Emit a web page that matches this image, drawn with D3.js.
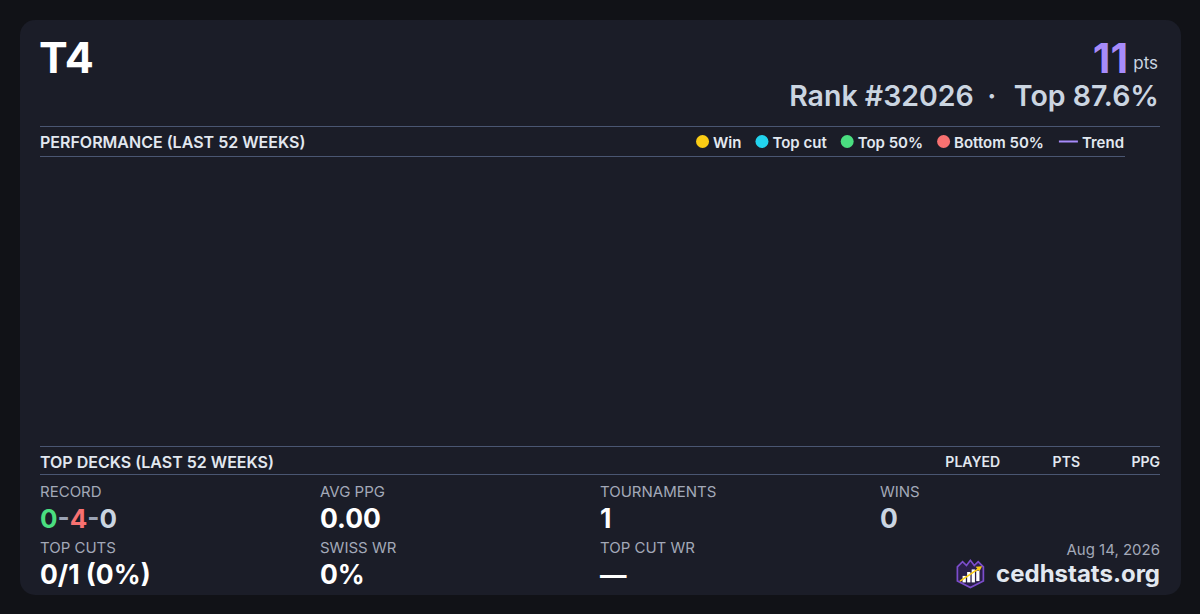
<!DOCTYPE html>
<html><head><meta charset="utf-8">
<script src="https://cdn.jsdelivr.net/npm/d3@7"></script>
<style>
html,body{margin:0;padding:0;background:#111217;}
svg{display:block;font-family:Inter,"Noto Sans",sans-serif;}
</style></head>
<body><svg id="c" width="1200" height="614"></svg>
<script>
// ---- data ----
const deckName = "T4";
const points = 11;
const rank = 32026;
const topPct = 87.6;
const legendLabels = ["Win", "Top cut", "Top 50%", "Bottom 50%", "Trend"];
const legendColors = ["#facc15", "#22d3ee", "#4ade80", "#f87171", "#a78bfa"];
const performanceWeeks = [];      // no weekly results in the last 52 weeks
const performanceValues = [];
const deckColumns = ["PLAYED", "PTS", "PPG"];
const topDecks = [];
const recordWLD = [0, 4, 0];
const statLabels = ["RECORD", "AVG PPG", "TOURNAMENTS", "WINS", "TOP CUTS", "SWISS WR", "TOP CUT WR"];
const statValues = [null, "0.00", "1", "0", "0/1 (0%)", "0%", "—"];
const dateLabel = "Aug 14, 2026";
const siteName = "cedhstats.org";

const svg = d3.select("#c");
svg.append("rect").attr("x",20).attr("y",20).attr("width",1161).attr("height",575).attr("rx",15).attr("fill","#1b1d28");

// header
svg.append("text").attr("x",39).attr("y",73).attr("fill","#ffffff").attr("font-size",43).attr("font-weight",700).text(deckName);
const ptsT = svg.append("text").attr("x",1158).attr("y",69).attr("text-anchor","end").attr("fill","#cbd5e1").attr("font-size",17).text("pts");
const ptsW = ptsT.node().getComputedTextLength();
svg.append("text").attr("x",1158-ptsW-5).attr("y",73).attr("text-anchor","end").attr("fill","#a78bfa").attr("font-size",41).attr("font-weight",700).text(points);

const rf = 28.5;
const topT = svg.append("text").attr("x",1159).attr("y",106).attr("text-anchor","end").attr("fill","#cbd5e1")
  .attr("font-size",rf).attr("font-weight",600).text(`Top ${topPct}%`);
const topW = topT.node().getComputedTextLength();
const dotX = 1159 - topW - 22;
svg.append("text").attr("x",dotX).attr("y",106).attr("text-anchor","middle").attr("fill","#cbd5e1")
  .attr("font-size",rf).attr("font-weight",600).text("·");
svg.append("text").attr("x",dotX-18).attr("y",106).attr("text-anchor","end").attr("fill","#cbd5e1")
  .attr("font-size",rf).attr("font-weight",600).text(`Rank #${rank}`);

const lineCol = "#4a5672";
function hline(y,x1,x2){svg.append("line").attr("x1",x1).attr("x2",x2).attr("y1",y+0.5).attr("y2",y+0.5).attr("stroke",lineCol).attr("stroke-width",1);}
hline(126,40,1160);
svg.append("text").attr("x",40).attr("y",148).attr("fill","#e2e8f0").attr("font-size",16).attr("font-weight",600).text("PERFORMANCE (LAST 52 WEEKS)");

// legend (right aligned at 1124)
const lg = svg.append("g");
const fs = 15;
let x = 1124;
const items = legendLabels.map((l,i)=>({l,c:legendColors[i]})).reverse();
items.forEach((d,i)=>{
  const t = lg.append("text").attr("x",x).attr("y",147.5).attr("text-anchor","end").attr("fill","#e2e8f0")
    .attr("font-size",fs).attr("font-weight",600).text(d.l);
  const w = t.node().getComputedTextLength();
  if(d.l==="Trend"){
    lg.append("line").attr("x1",x-w-23).attr("x2",x-w-4).attr("y1",141.5).attr("y2",141.5).attr("stroke",d.c).attr("stroke-width",2);
    x = x - w - 23 - 15;
  } else {
    lg.append("circle").attr("cx",x-w-10.5).attr("cy",141.5).attr("r",6.5).attr("fill",d.c);
    x = x - w - 17 - 14;
  }
});
hline(156,40,1125);

// plot area (empty: no results)
const xS = d3.scaleLinear().domain([0,51]).range([60,1110]);
const yS = d3.scaleLinear().domain([0,1]).range([430,170]);
svg.append("g").selectAll("circle").data(performanceValues).join("circle")
  .attr("cx",(d,i)=>xS(performanceWeeks[i])).attr("cy",d=>yS(d)).attr("r",4);

hline(446,40,1160);
svg.append("text").attr("x",40).attr("y",468).attr("fill","#e2e8f0").attr("font-size",16).attr("font-weight",600).text("TOP DECKS (LAST 52 WEEKS)");
const colX = [1000,1080,1160];
deckColumns.forEach((c,i)=>svg.append("text").attr("x",colX[i]).attr("y",467).attr("text-anchor","end")
  .attr("fill","#e2e8f0").attr("font-size",14).attr("font-weight",600).text(c));
hline(474,40,1160);

// stats grid
const gx = [40,320,600,880];
statLabels.forEach((l,i)=>{
  const col = i%4, row = Math.floor(i/4);
  const ly = 497 + row*56, vy = 528 + row*56;
  svg.append("text").attr("x",gx[col]).attr("y",ly).attr("fill","#a3a9b8").attr("font-size",15).text(l);
  if(i===0){
    const t = svg.append("text").attr("x",gx[col]).attr("y",vy).attr("font-size",26).attr("font-weight",700);
    t.append("tspan").attr("fill","#4ade80").text(recordWLD[0]);
    t.append("tspan").attr("fill","#9aa3b5").text("-");
    t.append("tspan").attr("fill","#f87171").text(recordWLD[1]);
    t.append("tspan").attr("fill","#9aa3b5").text("-");
    t.append("tspan").attr("fill","#cbd5e1").text(recordWLD[2]);
  } else {
    const fill = (l==="WINS") ? "#cbd5e1" : "#ffffff";
    svg.append("text").attr("x",gx[col]).attr("y",vy).attr("fill",fill).attr("font-size",26.5).attr("font-weight",700).text(statValues[i]);
  }
});

// footer
svg.append("text").attr("x",1160).attr("y",555).attr("text-anchor","end").attr("fill","#a3a9b8").attr("font-size",15).text(dateLabel);
const st = svg.append("text").attr("x",1160).attr("y",582).attr("text-anchor","end").attr("fill","#e2e8f0").attr("font-size",24).attr("font-weight",700).text(siteName);
const sw = st.node().getComputedTextLength();
const lx = 1160 - sw - 40;
const logo = svg.append("g").attr("transform",`translate(${lx},559) scale(1.3)`);
logo.append("path").attr("d","M1,6 L5,2 L8,5 L11,1 L14,5 L17,2 L21,6 L21,17 L11,22 L1,17 Z")
  .attr("fill","#2a1f4a").attr("stroke","#7c4dcc").attr("stroke-width",1.3);
[[5,13,2.5,5],[8.5,10,2.5,8],[12,8,2.5,10],[15.5,9,2.5,8]].forEach(b=>logo.append("rect").attr("x",b[0]).attr("y",b[1]).attr("width",b[2]).attr("height",b[3]).attr("fill","#ffffff"));
logo.append("line").attr("x1",3).attr("y1",17).attr("x2",18).attr("y2",7).attr("stroke","#facc15").attr("stroke-width",1.3);
logo.append("path").attr("d","M20,5.5 L15,6 L18,9.5 Z").attr("fill","#facc15");
</script></body></html>
